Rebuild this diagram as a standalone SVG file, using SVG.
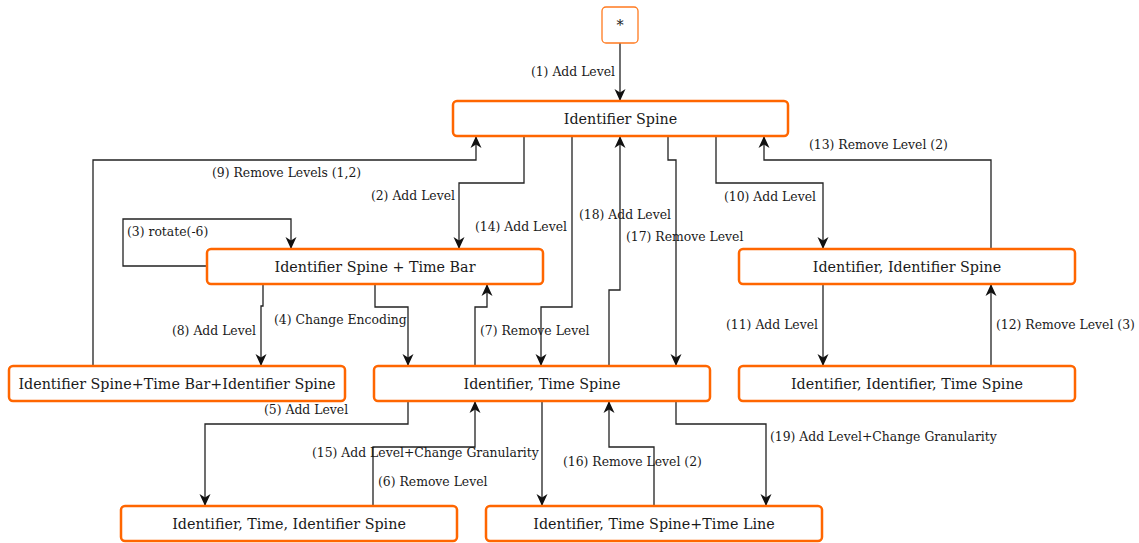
<svg xmlns="http://www.w3.org/2000/svg" width="1139" height="543" viewBox="0 0 1139 543">
  <defs>
    <marker id="ah" viewBox="-13 -7 14 14" refX="0" refY="0" markerWidth="14" markerHeight="14" orient="auto" markerUnits="userSpaceOnUse">
      <path d="M0,0 L-12,-5.5 L-8.5,0 L-12,5.5 Z" fill="#111"/>
    </marker>
    <style>
      .node rect { fill: #ffffff; stroke: #ff6600; stroke-width: 2.5; }
      .node.root rect { stroke-width: 1.3; stroke: #ff7a1f; }
      .node text { font-family: "DejaVu Serif", serif; font-size: 14.3px; fill: #1a1a1a; text-anchor: middle; }
      .edges path { fill: none; stroke: #222; stroke-width: 1.3; marker-end: url(#ah); }
      .edges text { font-family: "DejaVu Serif", serif; font-size: 12.4px; fill: #1a1a1a; }
      .edges text.r { text-anchor: end; }
    </style>
  </defs>
  <rect width="1139" height="543" fill="#ffffff"/>

  <g class="edges" id="connectors">
    <!-- (1) -->
    <path d="M620,43 V101"/>
    <text class="r" x="615" y="76">(1) Add Level</text>
    <!-- (2) -->
    <path d="M524,136 V183 H459 V249"/>
    <text class="r" x="455" y="200">(2) Add Level</text>
    <!-- (3) self loop -->
    <path d="M207,266 H123 V219 H291 V249"/>
    <text x="127" y="236">(3) rotate(-6)</text>
    <!-- (4) -->
    <path d="M375,284 V307 H408 V366"/>
    <text x="274" y="324">(4) Change Encoding</text>
    <!-- (5) -->
    <path d="M408,401 V424 H205 V506"/>
    <text x="264" y="414">(5) Add Level</text>
    <!-- (6) -->
    <path d="M373,506 V447 H475 V401"/>
    <text x="378" y="486">(6) Remove Level</text>
    <!-- (7) -->
    <path d="M475,366 V307 H487 V284"/>
    <text x="480" y="335">(7) Remove Level</text>
    <!-- (8) -->
    <path d="M263,284 V306 H261 V366"/>
    <text class="r" x="256" y="335">(8) Add Level</text>
    <!-- (9) -->
    <path d="M93,366 V160 H476 V136"/>
    <text x="212" y="177">(9) Remove Levels (1,2)</text>
    <!-- (10) -->
    <path d="M716,136 V183 H823 V249"/>
    <text x="724" y="201">(10) Add Level</text>
    <!-- (11) -->
    <path d="M823,284 V366"/>
    <text class="r" x="818" y="329">(11) Add Level</text>
    <!-- (12) -->
    <path d="M991,366 V284"/>
    <text x="996" y="329">(12) Remove Level (3)</text>
    <!-- (13) -->
    <path d="M991,249 V160 H764 V136"/>
    <text x="809" y="149">(13) Remove Level (2)</text>
    <!-- (14) -->
    <path d="M572,136 V307 H541 V366"/>
    <text x="475" y="231">(14) Add Level</text>
    <!-- (15) -->
    <path d="M542,401 V506"/>
    <text x="312" y="457">(15) Add Level+Change Granularity</text>
    <!-- (16) -->
    <path d="M654,506 V447 H609 V401"/>
    <text x="563" y="466">(16) Remove Level (2)</text>
    <!-- (17) -->
    <path d="M668,136 V160 H676 V366"/>
    <text x="626" y="241">(17) Remove Level</text>
    <!-- (18) -->
    <path d="M609,366 V290 H620 V136"/>
    <text x="579" y="219">(18) Add Level</text>
    <!-- (19) -->
    <path d="M676,401 V424 H766 V506"/>
    <text x="770" y="441">(19) Add Level+Change Granularity</text>
  </g>

  <g id="n-root" class="node root">
    <rect x="602" y="7" width="36" height="36" rx="4"/>
    <text x="620" y="30">*</text>
  </g>
  <g id="n-idspine" class="node">
    <rect x="453" y="101" width="335" height="35" rx="4"/>
    <text x="620.5" y="123.5">Identifier Spine</text>
  </g>
  <g id="n-idspine-timebar" class="node">
    <rect x="207" y="249" width="336" height="35" rx="4"/>
    <text x="375" y="271.5">Identifier Spine + Time Bar</text>
  </g>
  <g id="n-id-idspine" class="node">
    <rect x="739" y="249" width="336" height="35" rx="4"/>
    <text x="907" y="271.5">Identifier, Identifier Spine</text>
  </g>
  <g id="n-idspine-timebar-idspine" class="node">
    <rect x="9" y="366" width="336" height="35" rx="4"/>
    <text x="177" y="388.5">Identifier Spine+Time Bar+Identifier Spine</text>
  </g>
  <g id="n-id-timespine" class="node">
    <rect x="374" y="366" width="336" height="35" rx="4"/>
    <text x="542" y="388.5">Identifier, Time Spine</text>
  </g>
  <g id="n-id-id-timespine" class="node">
    <rect x="739" y="366" width="336" height="35" rx="4"/>
    <text x="907" y="388.5">Identifier, Identifier, Time Spine</text>
  </g>
  <g id="n-id-time-idspine" class="node">
    <rect x="121" y="506" width="336" height="35" rx="4"/>
    <text x="289" y="528.5">Identifier, Time, Identifier Spine</text>
  </g>
  <g id="n-id-timespine-timeline" class="node">
    <rect x="486" y="506" width="336" height="35" rx="4"/>
    <text x="654" y="528.5">Identifier, Time Spine+Time Line</text>
  </g>
</svg>
